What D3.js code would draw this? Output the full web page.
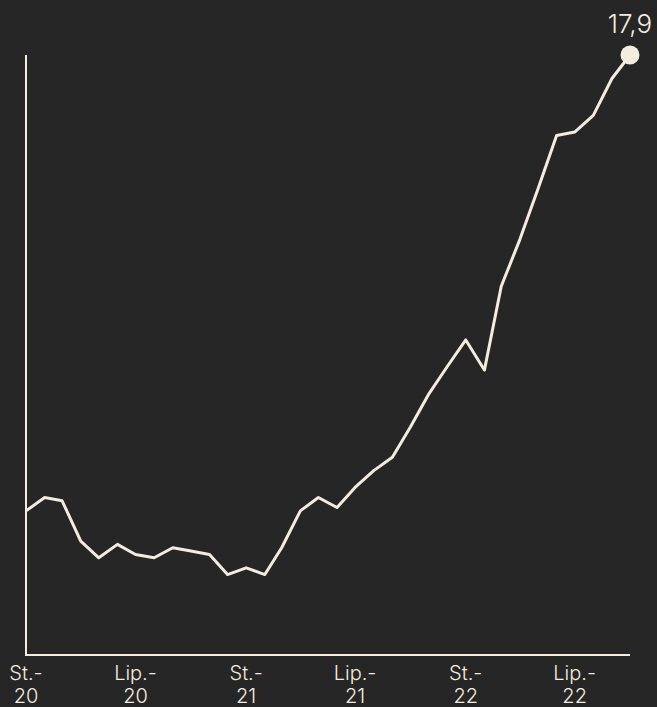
<!DOCTYPE html>
<html>
<head>
<meta charset="utf-8">
<script src="https://cdn.jsdelivr.net/npm/d3@7"></script>
<style>
  html, body { margin: 0; padding: 0; background: #262626; }
  svg { display: block; }
</style>
</head>
<body>
<div id="chart"></div>
<script>
// CPI, r/r, %, styczeń 2020 - październik 2022
const months = [
  '2020-01', '2020-02', '2020-03', '2020-04', '2020-05', '2020-06',
  '2020-07', '2020-08', '2020-09', '2020-10', '2020-11', '2020-12',
  '2021-01', '2021-02', '2021-03', '2021-04', '2021-05', '2021-06',
  '2021-07', '2021-08', '2021-09', '2021-10', '2021-11', '2021-12',
  '2022-01', '2022-02', '2022-03', '2022-04', '2022-05', '2022-06',
  '2022-07', '2022-08', '2022-09', '2022-10'
];
const values = [
  4.3, 4.7, 4.6, 3.4, 2.9, 3.3, 3.0, 2.9, 3.2, 3.1, 3.0, 2.4,
  2.6, 2.4, 3.2, 4.3, 4.7, 4.4, 5.0, 5.5, 5.9, 6.8, 7.8, 8.6,
  9.4, 8.5, 11.0, 12.4, 13.9, 15.5, 15.6, 16.1, 17.2, 17.9
];
const tickMonths = ['2020-01', '2020-07', '2021-01', '2021-07', '2022-01', '2022-07'];
const tickLabels = [['St.-', '20'], ['Lip.-', '20'], ['St.-', '21'], ['Lip.-', '21'], ['St.-', '22'], ['Lip.-', '22']];

const W = 657, H = 707;
const margin = { top: 55, right: 27, bottom: 52, left: 26 };
const ink = '#f4ecdd';
const font = 'Inter, "Noto Sans", sans-serif';

const parse = d3.timeParse('%Y-%m');
const data = months.map((m, i) => ({ date: parse(m), value: values[i] }));

const svg = d3.select('#chart').append('svg')
  .attr('width', W)
  .attr('height', H)
  .style('background-color', '#262626');

const x = d3.scaleTime()
  .domain(d3.extent(data, d => d.date))
  .range([margin.left, W - margin.right]);
const y = d3.scaleLinear()
  .domain([0, d3.max(values)])
  .range([H - margin.bottom, margin.top]);

// axes lines
svg.append('line')
  .attr('x1', margin.left).attr('x2', margin.left)
  .attr('y1', margin.top).attr('y2', H - margin.bottom)
  .style('stroke', ink).style('stroke-width', 2);
svg.append('line')
  .attr('x1', margin.left - 1).attr('x2', W - margin.right)
  .attr('y1', H - margin.bottom).attr('y2', H - margin.bottom)
  .style('stroke', ink).style('stroke-width', 2);

// tick labels, two lines each
const ticks = svg.append('g').attr('class', 'x-ticks');
tickMonths.forEach((m, i) => {
  tickLabels[i].forEach((s, j) => {
    ticks.append('text')
      .attr('x', x(parse(m)))
      .attr('y', 680 + j * 23)
      .attr('text-anchor', 'middle')
      .style('font-family', font)
      .style('font-weight', 300)
      .style('font-size', '20px')
      .style('fill', ink)
      .text(s);
  });
});

// line
const line = d3.line()
  .x(d => x(d.date))
  .y(d => y(d.value));

svg.append('path')
  .datum(data)
  .attr('d', line)
  .style('fill', 'none')
  .style('stroke', ink)
  .style('stroke-width', 3)
  .style('stroke-linejoin', 'round');

// last point
const last = data[data.length - 1];
svg.append('circle')
  .attr('cx', x(last.date))
  .attr('cy', y(last.value))
  .attr('r', 9.5)
  .style('fill', ink);

svg.append('text')
  .attr('x', x(last.date))
  .attr('y', 33)
  .attr('text-anchor', 'middle')
  .style('font-family', font)
  .style('font-weight', 300)
  .style('font-size', '26px')
  .style('fill', ink)
  .text(d3.format('.1f')(last.value).replace('.', ','));
</script>
</body>
</html>
